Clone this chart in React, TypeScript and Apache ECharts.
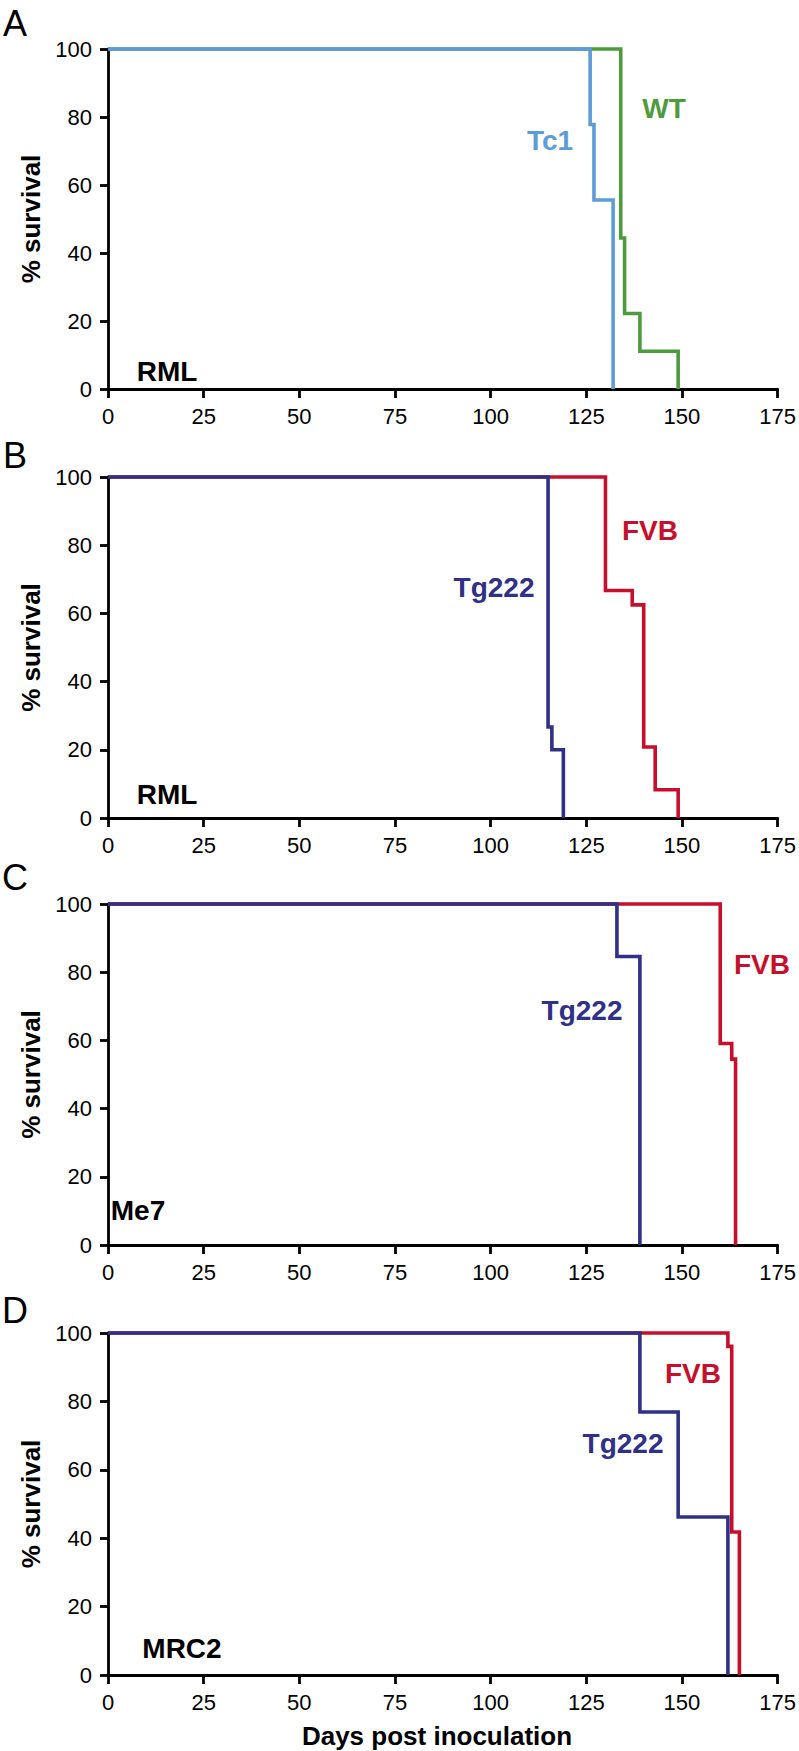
import React, { useEffect, useRef } from "react";
import * as echarts from "echarts";

// ---- Data ----
const panelLetters = ["A", "B", "C", "D"];
const strainLabels = ["RML", "RML", "Me7", "MRC2"];
const xTickValues = [0, 25, 50, 75, 100, 125, 150, 175];
const yTickValues = [0, 20, 40, 60, 80, 100];

// Panel A
const aWtDays = [0, 134, 135, 139, 149];
const aWtSurv = [100, 44.4, 22.2, 11.1, 0];
const aTc1Days = [0, 126, 127, 132];
const aTc1Surv = [100, 77.8, 55.6, 0];
// Panel B
const bFvbDays = [0, 130, 137, 140, 143, 149];
const bFvbSurv = [100, 66.7, 62.5, 20.8, 8.3, 0];
const bTgDays = [0, 115, 116, 119];
const bTgSurv = [100, 26.7, 20, 0];
// Panel C
const cFvbDays = [0, 160, 163, 164];
const cFvbSurv = [100, 59.1, 54.5, 0];
const cTgDays = [0, 133, 139];
const cTgSurv = [100, 84.6, 0];
// Panel D
const dFvbDays = [0, 162, 163, 165];
const dFvbSurv = [100, 96.1, 41.8, 0];
const dTgDays = [0, 139, 149, 162];
const dTgSurv = [100, 76.9, 46.2, 0];

const BLUE = "#5D9CD6";
const GREEN = "#4F9A3E";
const RED = "#C50F2C";
const NAVY = "#2F3086";

const curves = [
  { panel: 0, name: "WT", days: aWtDays, surv: aWtSurv, color: GREEN },
  { panel: 0, name: "Tc1", days: aTc1Days, surv: aTc1Surv, color: BLUE },
  { panel: 1, name: "FVB", days: bFvbDays, surv: bFvbSurv, color: RED },
  { panel: 1, name: "Tg222", days: bTgDays, surv: bTgSurv, color: NAVY },
  { panel: 2, name: "FVB", days: cFvbDays, surv: cFvbSurv, color: RED },
  { panel: 2, name: "Tg222", days: cTgDays, surv: cTgSurv, color: NAVY },
  { panel: 3, name: "FVB", days: dFvbDays, surv: dFvbSurv, color: RED },
  { panel: 3, name: "Tg222", days: dTgDays, surv: dTgSurv, color: NAVY },
];

// layout
const grids = [
  { left: 108, top: 49, width: 675, height: 340 },
  { left: 108, top: 477, width: 675, height: 341 },
  { left: 108, top: 904, width: 675, height: 341 },
  { left: 108, top: 1333, width: 675, height: 342 },
];
const letterPos = [
  [15, 23],
  [15, 455],
  [15, 877],
  [15, 1310],
];
const strainPos = [
  [167, 371],
  [167, 794],
  [138, 1210],
  [182, 1648],
];
const curveLabelPos = [
  [664, 108],
  [550, 140],
  [650, 530],
  [494, 587],
  [762, 964],
  [582, 1010],
  [693, 1373],
  [623, 1443],
];

const FONT = "'Liberation Sans', Arial, Helvetica, sans-serif";

export default function App() {
  const ref = useRef<HTMLDivElement>(null);
  useEffect(() => {
    if (!ref.current) return;
    const chart = echarts.init(ref.current, undefined, { renderer: "svg" });
    const axisLine = { show: true, onZero: false, lineStyle: { color: "#000", width: 2.8 } };
    const option: any = {
      animation: false,
      backgroundColor: "#fff",
      textStyle: { fontFamily: FONT },
      grid: grids.map((g) => ({ ...g, containLabel: false })),
      xAxis: grids.map((_, i) => ({
        type: "value",
        gridIndex: i,
        min: 0,
        max: 175,
        interval: 25,
        axisLine,
        axisTick: { show: true, inside: false, length: 9, lineStyle: { color: "#000", width: 2.8 } },
        axisLabel: {
          color: "#000",
          fontSize: 22,
          fontFamily: FONT,
          margin: 16,
          formatter: (v: number) => (xTickValues.includes(v) ? String(v) : ""),
        },
        splitLine: { show: false },
      })),
      yAxis: grids.map((_, i) => ({
        type: "value",
        gridIndex: i,
        min: 0,
        max: 100,
        interval: 20,
        name: "% survival",
        nameLocation: "middle",
        nameGap: 55,
        nameRotate: 90,
        nameTextStyle: { color: "#000", fontSize: 26, fontWeight: "bold", fontFamily: FONT },
        axisLine,
        axisTick: { show: true, inside: false, length: 8, lineStyle: { color: "#000", width: 2.8 } },
        axisLabel: {
          color: "#000",
          fontSize: 22,
          fontFamily: FONT,
          margin: 16,
          formatter: (v: number) => (yTickValues.includes(v) ? String(v) : ""),
        },
        splitLine: { show: false },
      })),
      series: curves.map((c) => ({
        type: "line",
        name: c.name,
        xAxisIndex: c.panel,
        yAxisIndex: c.panel,
        step: "end",
        clip: false,
        symbol: "none",
        showSymbol: false,
        lineStyle: { color: c.color, width: 3.6, join: "miter", cap: "butt" },
        itemStyle: { color: c.color },
        data: c.days.map((d, k) => [d, c.surv[k]]),
      })),
      graphic: [
        ...panelLetters.map((t, i) => ({
          type: "text",
          x: letterPos[i][0],
          y: letterPos[i][1],
          style: { text: t, fill: "#000", fontSize: 36, fontFamily: FONT, align: "center", verticalAlign: "middle" },
        })),
        ...strainLabels.map((t, i) => ({
          type: "text",
          x: strainPos[i][0],
          y: strainPos[i][1],
          style: { text: t, fill: "#000", fontSize: 28, fontWeight: "bold", fontFamily: FONT, align: "center", verticalAlign: "middle" },
        })),
        ...curves.map((c, i) => ({
          type: "text",
          x: curveLabelPos[i][0],
          y: curveLabelPos[i][1],
          style: { text: c.name, fill: c.color, fontSize: 28, fontWeight: "bold", fontFamily: FONT, align: "center", verticalAlign: "middle" },
        })),
        {
          type: "text",
          x: 437,
          y: 1736,
          style: { text: "Days post inoculation", fill: "#000", fontSize: 26, fontWeight: "bold", fontFamily: FONT, align: "center", verticalAlign: "middle" },
        },
      ],
    };
    chart.setOption(option);
    return () => chart.dispose();
  }, []);
  return (
    <div
      ref={ref}
      style={{ position: "absolute", left: 0, top: 0, width: 799, height: 1751, background: "#fff" }}
    />
  );
}
